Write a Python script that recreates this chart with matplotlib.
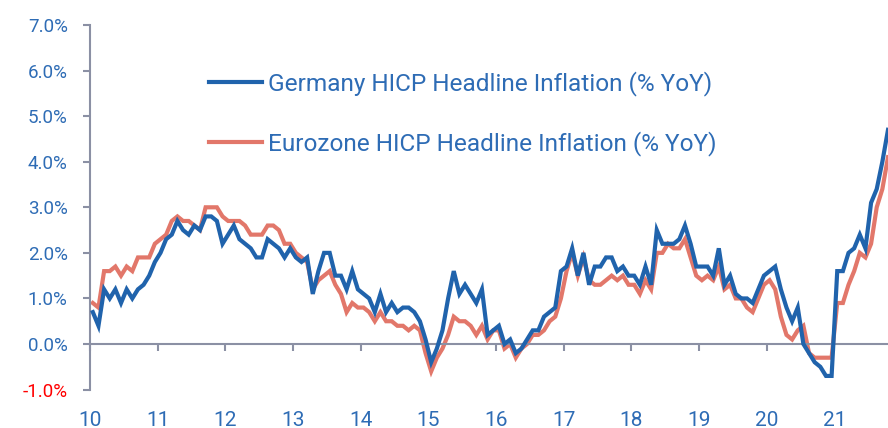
import matplotlib
matplotlib.use("Agg")
import matplotlib.pyplot as plt
import numpy as np

# monthly YoY %, Jan 2010 - Oct 2021
germany = [0.7, 0.4, 1.2, 1.0, 1.2, 0.9, 1.2, 1.0, 1.2, 1.3, 1.5, 1.8,
           2.0, 2.3, 2.4, 2.7, 2.5, 2.4, 2.6, 2.5, 2.8, 2.8, 2.7, 2.2,
           2.4, 2.6, 2.3, 2.2, 2.1, 1.9, 1.9, 2.3, 2.2, 2.1, 1.9, 2.1,
           1.9, 1.8, 1.9, 1.1, 1.6, 2.0, 2.0, 1.5, 1.5, 1.2, 1.6, 1.2,
           1.1, 1.0, 0.7, 1.1, 0.7, 0.9, 0.7, 0.8, 0.8, 0.7, 0.5, 0.1,
           -0.4, -0.1, 0.3, 1.0, 1.6, 1.1, 1.3, 1.1, 0.9, 1.2, 0.2, 0.3,
           0.4, 0.0, 0.1, -0.2, -0.1, 0.1, 0.3, 0.3, 0.6, 0.7, 0.8, 1.6,
           1.7, 2.1, 1.5, 2.0, 1.3, 1.7, 1.7, 1.9, 1.9, 1.6, 1.7, 1.5,
           1.5, 1.3, 1.7, 1.3, 2.5, 2.2, 2.2, 2.2, 2.3, 2.6, 2.2, 1.7,
           1.7, 1.7, 1.5, 2.1, 1.3, 1.5, 1.1, 1.0, 1.0, 0.9, 1.2, 1.5,
           1.6, 1.7, 1.2, 0.8, 0.5, 0.8, 0.0, -0.2, -0.4, -0.5, -0.7, -0.7,
           1.6, 1.6, 2.0, 2.1, 2.4, 2.1, 3.1, 3.4, 4.0, 4.7]

eurozone = [0.9, 0.8, 1.6, 1.6, 1.7, 1.5, 1.7, 1.6, 1.9, 1.9, 1.9, 2.2,
            2.3, 2.4, 2.7, 2.8, 2.7, 2.7, 2.6, 2.5, 3.0, 3.0, 3.0, 2.8,
            2.7, 2.7, 2.7, 2.6, 2.4, 2.4, 2.4, 2.6, 2.6, 2.5, 2.2, 2.2,
            2.0, 1.9, 1.8, 1.2, 1.4, 1.5, 1.6, 1.3, 1.1, 0.7, 0.9, 0.8,
            0.8, 0.7, 0.5, 0.7, 0.5, 0.5, 0.4, 0.4, 0.3, 0.4, 0.3, -0.2,
            -0.6, -0.3, -0.1, 0.2, 0.6, 0.5, 0.5, 0.4, 0.2, 0.4, 0.1, 0.3,
            0.3, -0.1, 0.0, -0.3, -0.1, 0.0, 0.2, 0.2, 0.3, 0.5, 0.6, 1.0,
            1.6, 2.0, 1.5, 1.9, 1.4, 1.3, 1.3, 1.4, 1.5, 1.4, 1.5, 1.3,
            1.3, 1.1, 1.4, 1.2, 2.0, 2.0, 2.2, 2.1, 2.1, 2.3, 1.9, 1.5,
            1.4, 1.5, 1.4, 1.7, 1.2, 1.3, 1.0, 1.0, 0.8, 0.7, 1.0, 1.3,
            1.4, 1.2, 0.6, 0.2, 0.1, 0.3, 0.4, -0.2, -0.3, -0.3, -0.3, -0.3,
            0.9, 0.9, 1.3, 1.6, 2.0, 1.9, 2.2, 3.0, 3.4, 4.1]

year_labels = ['10', '11', '12', '13', '14', '15', '16', '17', '18', '19', '20', '21']
y_ticks = [-1, 0, 1, 2, 3, 4, 5, 6, 7]

blue = '#2063AC'
red = '#E2776A'
text_blue = '#2E6CB5'
axis_grey = '#8B90A4'

plt.rcParams['font.family'] = ['Roboto', 'DejaVu Sans']

fig = plt.figure(figsize=(8.88, 4.28), dpi=100)
ax = fig.add_axes([90 / 888, (428 - 389.6) / 428, 798 / 888, (389.6 - 25) / 428])

months = np.arange(len(germany))
ax.plot(months, germany, color=blue, lw=3, solid_joinstyle='miter',
        label='Germany HICP Headline Inflation (% YoY)', zorder=3)
ax.plot(months, eurozone, color=red, lw=3, solid_joinstyle='miter',
        label='Eurozone HICP Headline Inflation (% YoY)', zorder=2)

ax.set_xlim(-0.5, 141.0)
ax.set_ylim(-1, 7)

ax.spines['top'].set_visible(False)
ax.spines['right'].set_visible(False)
ax.spines['bottom'].set_position(('data', 0))
for s in ('left', 'bottom'):
    ax.spines[s].set_color(axis_grey)
    ax.spines[s].set_linewidth(1.5)

ax.set_yticks(y_ticks)
ax.set_yticklabels([f'{v:.1f}%' for v in y_ticks])
for lbl, v in zip(ax.get_yticklabels(), y_ticks):
    lbl.set_color('#FF0000' if v < 0 else text_blue)

ax.set_xticks([12 * k - 0.5 for k in range(len(year_labels))])
ax.set_xticklabels(year_labels, color=text_blue)

ax.tick_params(axis='y', length=5, width=1.5, color=axis_grey, pad=11, labelsize=13.5)
ax.tick_params(axis='x', length=5, width=1.5, color=axis_grey, pad=43, labelsize=15)

leg = ax.legend(loc='upper left', bbox_to_anchor=(209 / 888, 1 - 71 / 428),
                bbox_transform=fig.transFigure, frameon=False, fontsize=17.6,
                handlelength=2.15, handletextpad=0.25, labelspacing=1.45,
                borderpad=0, borderaxespad=0, labelcolor=text_blue)

fig.savefig('out.png', dpi=100)
